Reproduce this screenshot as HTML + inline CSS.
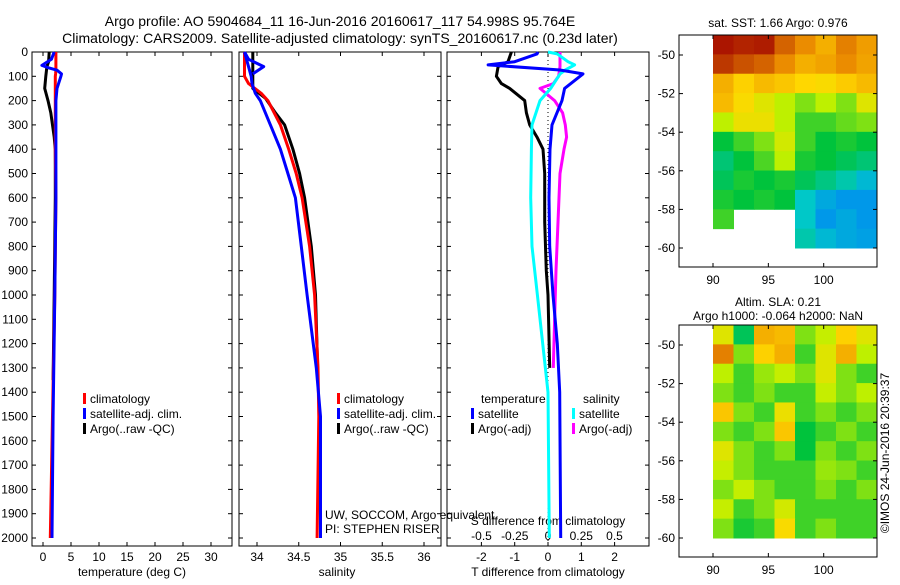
<!DOCTYPE html>
<html><head><meta charset="utf-8"><style>
body{margin:0;background:#fff;width:900px;height:580px;overflow:hidden;font-family:"Liberation Sans",sans-serif}
svg text{font-family:"Liberation Sans",sans-serif;font-size:12px;fill:#000}
</style></head><body>
<svg id="c" width="900" height="580"></svg>
<script>
// ---- data ----
const tDepth=[0,30,45,55,65,75,90,100,150,200,400,600,1000,1500,2000];
const tClim=[2.3,2.3,2.3,2.3,2.3,2.3,2.25,2.2,2.2,2.2,2.2,2.3,2.1,1.7,1.3];
const tSat=[2.0,1.5,0.5,-0.2,1.0,2.5,3.3,3.2,2.5,2.3,2.3,2.3,2.1,1.8,1.6];
const argoDepth=[0,40,60,100,150,200,250,300,350,400,600,1000,1350];
const tArgo=[1.1,1.0,0.7,0.5,0.3,0.9,1.4,1.7,2.0,2.2,2.2,2.0,1.8];
const sDepth=[0,100,130,170,200,300,400,500,600,800,1000,1300,1500,2000];
const sClim=[33.85,33.85,33.9,34.05,34.13,34.28,34.38,34.47,34.54,34.63,34.69,34.73,34.74,34.72];
const sSat=[33.85,33.93,33.94,33.98,34.04,34.16,34.28,34.37,34.46,34.53,34.6,34.71,34.76,34.76];
const sArgoDepth=[0,150,190,250,300,400,500,600,800,1000,1350];
const sArgo=[33.95,33.95,34.1,34.22,34.33,34.43,34.51,34.57,34.65,34.7,34.73];
const sSatTop=[33.85,33.9,34.08,33.95];
const sSatTopDepth=[0,30,60,90];
const dDepth=[0,8,40,53,74,90,150,200,300,400,600,800,1000,1200,1400,2000];
const dTSat=[-0.3,-0.33,-1.0,-1.8,0.36,1.05,0.5,0.42,0.12,0.06,0.03,0.05,0.15,0.28,0.35,0.38];
const dSSat=[0,0.07,0.15,0.2,0.13,0.09,0.02,-0.06,-0.12,-0.125,-0.13,-0.12,-0.08,-0.04,0,0.01];
const dArgoDepth=[0,40,60,100,130,150,200,250,300,350,400,500,700,900,1000,1300];
const dTArgo=[-1.1,-1.2,-1.5,-1.55,-1.4,-1.15,-0.7,-0.65,-0.55,-0.33,-0.15,-0.1,-0.1,-0.05,0,0.05];
const dSArgo=[0.09,0.09,0.09,0.08,0.04,-0.06,0.05,0.11,0.13,0.14,0.12,0.09,0.075,0.06,0.055,0.04];
const depthTicks=[0,100,200,300,400,500,600,700,800,900,1000,1100,1200,1300,1400,1500,1600,1700,1800,1900,2000];
const tTicks=[0,5,10,15,20,25,30];
const sTicks=[34,34.5,35,35.5,36];
const sTickLabels=["34","34.5","35","35.5","36"];
const dTTicks=[-2,-1,0,1,2];
const dSTicks=[-0.5,-0.25,0,0.25,0.5];
const dSTickLabels=["-0.5","-0.25","0","0.25","0.5"];
const lonTicks=[90,95,100];
const latTicks=[-50,-52,-54,-56,-58,-60];
const sstGrid=[
[0.97,0.95,0.96,0.85,0.78,0.72,0.8,0.75],
[0.92,0.88,0.85,0.78,0.72,0.74,0.78,0.74],
[0.72,0.66,0.7,0.68,0.65,0.64,0.67,0.7],
[0.7,0.64,0.6,0.55,0.5,0.55,0.5,0.6],
[0.55,0.62,0.62,0.55,0.45,0.45,0.48,0.5],
[0.4,0.45,0.5,0.58,0.45,0.4,0.42,0.4],
[0.36,0.4,0.46,0.55,0.42,0.4,0.38,0.36],
[0.38,0.42,0.4,0.42,0.38,0.35,0.32,0.28],
[0.42,0.4,0.42,0.4,0.3,0.26,0.24,0.24],
[0.45,null,null,null,0.3,0.24,0.26,0.24],
[null,null,null,null,0.32,0.28,0.26,0.25]];
const slaGrid=[
[0.6,0.38,0.72,0.7,0.5,0.56,0.66,0.6],
[0.8,0.5,0.66,0.72,0.45,0.6,0.72,0.55],
[0.55,0.45,0.52,0.56,0.5,0.6,0.5,0.45],
[0.5,0.45,0.5,0.45,0.45,0.56,0.5,0.55],
[0.68,0.5,0.45,0.62,0.45,0.5,0.45,0.5],
[0.5,0.45,0.5,0.68,0.4,0.45,0.5,0.45],
[0.6,0.5,0.45,0.5,0.4,0.5,0.45,0.5],
[0.56,0.5,0.45,0.45,0.45,0.52,0.5,0.45],
[0.5,0.56,0.5,0.45,0.45,0.5,0.45,0.5],
[0.56,0.45,0.5,0.58,0.45,0.45,0.45,0.45],
[0.5,0.42,0.45,0.64,0.45,0.5,0.45,0.45]];

const svg=document.getElementById('c');const NS='http://www.w3.org/2000/svg';
function mk(tag,at,parent){const e=document.createElementNS(NS,tag);for(const k in at)e.setAttribute(k,at[k]);(parent||svg).appendChild(e);return e;}
function txt(x,y,s,anchor,name,extra){const e=mk('text',Object.assign({x:x,y:y,'text-anchor':anchor||'start'},extra||{}));e.textContent=s;

return e;}
const TOP=52,BOT=546;
const yD=d=>TOP+d*0.243;
const xT=v=>43+v*5.6;
const xS=v=>257+(v-34)*83.5;
const xDT=v=>548+v*33.3;
const xDS=v=>548+v*133;
function line(xs,ds,fx,color,name,w){const p=xs.map((v,i)=>fx(v).toFixed(1)+','+yD(ds[i]).toFixed(1)).join(' ');
const e=mk('polyline',{points:p,fill:'none',stroke:color,'stroke-width':w||3,'stroke-linejoin':'round'});

}
function box(x0,x1,name){const e=mk('rect',{x:x0,y:TOP,width:x1-x0,height:BOT-TOP,fill:'none',stroke:'#000','stroke-width':1});


depthTicks.forEach(d=>{mk('line',{x1:x0,x2:x0+4,y1:yD(d),y2:yD(d),stroke:'#000'});mk('line',{x1:x1-4,x2:x1,y1:yD(d),y2:yD(d),stroke:'#000'});});}

txt(340,26,'Argo profile: AO 5904684_11 16-Jun-2016 20160617_117 54.998S 95.764E','middle','chart-title',{style:'font-size:14px'});
txt(340,43,'Climatology: CARS2009. Satellite-adjusted climatology: synTS_20160617.nc (0.23d later)','middle','chart-subtitle',{style:'font-size:14px'});

// panel 1
box(32,232,'temperature-panel');
depthTicks.forEach(d=>txt(28,yD(d)+4,String(d),'end','depth-tick-label'));
tTicks.forEach(v=>{txt(xT(v),561,String(v),'middle','temp-tick-label');mk('line',{x1:xT(v),x2:xT(v),y1:TOP,y2:TOP+4,stroke:'#000'});mk('line',{x1:xT(v),x2:xT(v),y1:BOT,y2:BOT-4,stroke:'#000'});});
txt(132,576,'temperature (deg C)','middle','temperature-axis-title');
line(tArgo,argoDepth,xT,'#000','temp-argo-line');
line(tClim,tDepth,xT,'#f00','temp-climatology-line');
line(tSat,tDepth,xT,'#00f','temp-satellite-line');
function legend(x,y,items,prefix){items.forEach((it,i)=>{mk('rect',{x:x,y:y+i*15-10,width:3,height:11,fill:it[0]});txt(x+7,y+i*15,it[1],'start',prefix+'-legend-entry');});}
legend(83,403,[['#f00','climatology'],['#00f','satellite-adj. clim.'],['#000','Argo(..raw -QC)']],'temp');

// panel 2
box(239,441,'salinity-panel');
sTicks.forEach((v,i)=>{txt(xS(v),561,sTickLabels[i],'middle','salinity-tick-label');mk('line',{x1:xS(v),x2:xS(v),y1:TOP,y2:TOP+4,stroke:'#000'});mk('line',{x1:xS(v),x2:xS(v),y1:BOT,y2:BOT-4,stroke:'#000'});});
txt(337,576,'salinity','middle','salinity-axis-title');
line(sArgo,sArgoDepth,xS,'#000','sal-argo-line');
line(sClim,sDepth,xS,'#f00','sal-climatology-line');
line(sSat,sDepth,xS,'#00f','sal-satellite-line');
line(sSatTop,sSatTopDepth,xS,'#00f','sal-satellite-surface-line');
legend(337,403,[['#f00','climatology'],['#00f','satellite-adj. clim.'],['#000','Argo(..raw -QC)']],'sal');
txt(325,519,'UW, SOCCOM, Argo equivalent','start','float-owner-text');
txt(325,533,'PI: STEPHEN RISER','start','pi-text');

// panel 3
box(447,649,'difference-panel');
mk('line',{x1:548,x2:548,y1:TOP,y2:BOT,stroke:'#000','stroke-dasharray':'1,3'});
dTTicks.forEach(v=>{txt(xDT(v),561,String(v),'middle','tdiff-tick-label');mk('line',{x1:xDT(v),x2:xDT(v),y1:TOP,y2:TOP+4,stroke:'#000'});mk('line',{x1:xDT(v),x2:xDT(v),y1:BOT,y2:BOT-4,stroke:'#000'});});
dSTicks.forEach((v,i)=>txt(xDS(v),540,dSTickLabels[i],'middle','sdiff-tick-label'));
txt(548,525,'S difference from climatology','middle','sdiff-axis-title');
txt(548,576,'T difference from climatology','middle','tdiff-axis-title');
line(dTArgo,dArgoDepth,xDT,'#000','tdiff-argo-line');
line(dSArgo,dArgoDepth,xDS,'#f0f','sdiff-argo-line');
line(dSSat,dDepth,xDS,'#0ff','sdiff-satellite-line');
line(dTSat,dDepth,xDT,'#00f','tdiff-satellite-line');
txt(481,403,'temperature','start','tdiff-legend-title');
legend(471,418,[['#00f','satellite'],['#000','Argo(-adj)']],'tdiff');
txt(583,403,'salinity','start','sdiff-legend-title');
legend(572,418,[['#0ff','satellite'],['#f0f','Argo(-adj)']],'sdiff');

// maps
const stops=[[0,[0,0,130]],[0.2,[0,120,255]],[0.3,[0,200,200]],[0.4,[0,195,60]],[0.55,[190,240,0]],[0.65,[255,215,0]],[0.78,[235,140,0]],[0.9,[195,70,0]],[1,[160,0,0]]];
function cmap(v){for(let i=1;i<stops.length;i++){if(v<=stops[i][0]){const a=stops[i-1],b=stops[i],t=(v-a[0])/(b[0]-a[0]);return 'rgb('+a[1].map((c,k)=>Math.round(c+(b[1][k]-c)*t)).join(',')+')';}}return 'rgb(160,0,0)';}
function map(y0,grid,name,title1,title2){
  const bx0=679,bx1=877,by0=y0,by1=y0+232;
  const xL=lon=>713+(lon-90)*11.07, yL=lat=>y0+20+(-50-lat)*19.3;
  const nR=grid.length,nC=grid[0].length;
  const cw=(bx1-713)/nC, ch=(yL(-60)-by0)/nR;
  grid.forEach((row,r)=>row.forEach((v,c)=>{if(v===null)return;
    const e=mk('rect',{x:713+c*cw,y:by0+r*ch,width:cw+0.5,height:ch+0.5,fill:cmap(v)});
    
    }));
  const b=mk('rect',{x:bx0,y:by0,width:bx1-bx0,height:by1-by0,fill:'none',stroke:'#000'});
  
  
  lonTicks.forEach(l=>{txt(xL(l),by1+17,String(l),'middle',name+'-lon-label');mk('line',{x1:xL(l),x2:xL(l),y1:by1,y2:by1-4,stroke:'#000'});mk('line',{x1:xL(l),x2:xL(l),y1:by0,y2:by0+4,stroke:'#000'});});
  latTicks.forEach(l=>{txt(675,yL(l)+4,String(l),'end',name+'-lat-label');mk('line',{x1:bx0,x2:bx0+4,y1:yL(l),y2:yL(l),stroke:'#000'});mk('line',{x1:bx1,x2:bx1-4,y1:yL(l),y2:yL(l),stroke:'#000'});});
  if(title2){txt(778,y0-19,title1,'middle',name+'-title');txt(778,y0-5,title2,'middle',name+'-subtitle');}
  else txt(778,y0-8,title1,'middle',name+'-title');
}
map(35,sstGrid,'sst-map','sat. SST: 1.66 Argo: 0.976');
map(325,slaGrid,'sla-map','Altim. SLA: 0.21','Argo h1000: -0.064 h2000: NaN');
txt(0,0,'©IMOS 24-Jun-2016 20:39:37','middle','copyright-text',{transform:'translate(889,453) rotate(-90)'});
</script>
</body></html>
